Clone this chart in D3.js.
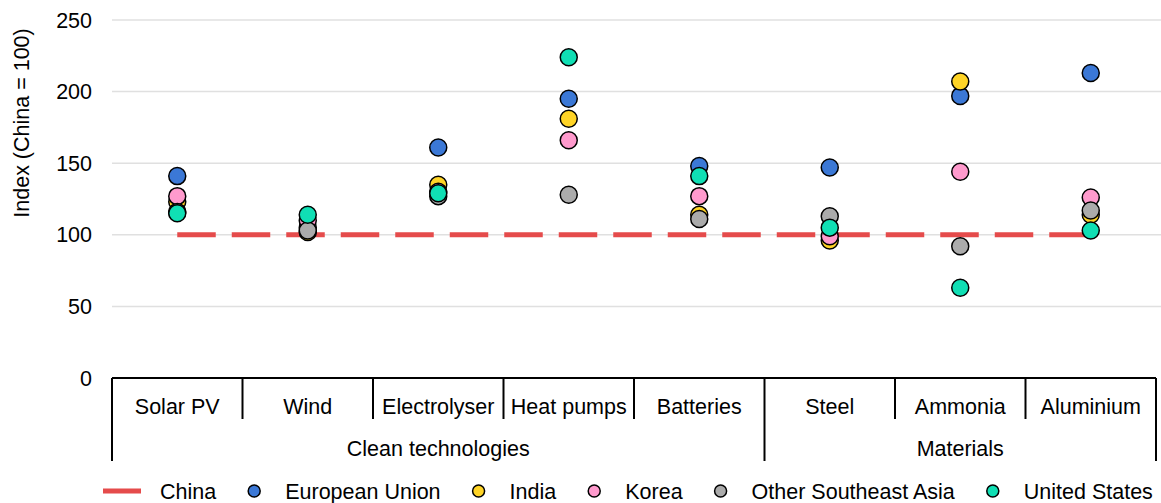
<!DOCTYPE html>
<html>
<head>
<meta charset="utf-8">
<script src="https://cdn.jsdelivr.net/npm/d3@7"></script>
<style>
	body { margin: 0; background: #fff; }
	svg { font-family: "Liberation Sans", Arial, sans-serif; }
</style>
</head>
<body>
<svg id="chart" width="1161" height="503"></svg>
<script>
const categories = ['Solar PV', 'Wind', 'Electrolyser', 'Heat pumps', 'Batteries', 'Steel', 'Ammonia', 'Aluminium'];
const groups = [
	{ name: 'Clean technologies', from: 'Solar PV', to: 'Batteries' },
	{ name: 'Materials', from: 'Steel', to: 'Aluminium' }
];
const yTicks = [0, 50, 100, 150, 200, 250];

const china = [100, 100, 100, 100, 100, 100, 100, 100];
const europeanUnion = [141, 105, 161, 195, 148, 147, 197, 213];
const india = [123, 102, 135, 181, 114, 96, 207, 114];
const korea = [127, 110, 130, 166, 127, 99, 144, 126];
const otherSEAsia = [116, 103, 127, 128, 111, 113, 92, 117];
const unitedStates = [115, 114, 129, 224, 141, 105, 63, 103];

const dotSeries = [
	{ name: 'European Union', values: europeanUnion, color: '#3b78d6' },
	{ name: 'India', values: india, color: '#ffd426' },
	{ name: 'Korea', values: korea, color: '#ff9acd' },
	{ name: 'Other Southeast Asia', values: otherSEAsia, color: '#ababab' },
	{ name: 'United States', values: unitedStates, color: '#10dfb4' }
];
const lineColor = '#e54b4b';
const fontSize = 21.5;

const svg = d3.select('#chart');
const plot = { left: 112, right: 1156, top: 20, bottom: 378 };

const x = d3.scaleBand().domain(categories).range([plot.left, plot.right]).padding(0);
const y = d3.scaleLinear().domain([0, 250]).range([plot.bottom, plot.top]);
const cx = c => x(c) + x.bandwidth() / 2;

// gridlines
svg.append('g')
	.selectAll('line')
	.data(yTicks.filter(d => d > 0))
	.enter().append('line')
	.attr('x1', plot.left).attr('x2', 1161)
	.attr('y1', d => y(d)).attr('y2', d => y(d))
	.attr('stroke', '#e0e0e0').attr('stroke-width', 1.5);

// y axis labels
svg.append('g')
	.selectAll('text')
	.data(yTicks)
	.enter().append('text')
	.attr('x', 92).attr('y', d => y(d))
	.attr('dy', '0.35em')
	.attr('text-anchor', 'end')
	.attr('font-size', fontSize)
	.text(d => d);

svg.append('text')
	.attr('transform', 'translate(29,123) rotate(-90)')
	.attr('text-anchor', 'middle')
	.attr('font-size', fontSize)
	.text('Index (China = 100)');

// china line
svg.append('path')
	.datum(categories.map((c, i) => [cx(c), y(china[i])]))
	.attr('d', d3.line())
	.attr('fill', 'none')
	.attr('stroke', lineColor)
	.attr('stroke-width', 5)
	.attr('stroke-dasharray', '38.5,16');

// dots, drawn series by series so later ones sit on top
dotSeries.forEach(s => {
	svg.append('g')
		.selectAll('circle')
		.data(s.values)
		.enter().append('circle')
		.attr('cx', (d, i) => cx(categories[i]))
		.attr('cy', d => y(d))
		.attr('r', 8.5)
		.attr('fill', s.color)
		.attr('stroke', '#000')
		.attr('stroke-width', 1.5);
});

// x axis
const ax = svg.append('g').attr('stroke', '#000').attr('stroke-width', 2);
ax.append('line')
	.attr('x1', plot.left).attr('x2', plot.right)
	.attr('y1', plot.bottom).attr('y2', plot.bottom);

const groupEdges = [x(groups[0].from), x(groups[1].from), plot.right];
categories.forEach(c => {
	const xx = x(c);
	const long = groupEdges.includes(xx);
	ax.append('line')
		.attr('x1', xx).attr('x2', xx)
		.attr('y1', plot.bottom).attr('y2', long ? 461 : 419);
});
ax.append('line')
	.attr('x1', plot.right).attr('x2', plot.right)
	.attr('y1', plot.bottom).attr('y2', 461);

svg.append('g')
	.selectAll('text')
	.data(categories)
	.enter().append('text')
	.attr('x', d => cx(d)).attr('y', 414)
	.attr('text-anchor', 'middle')
	.attr('font-size', fontSize)
	.text(d => d);

svg.append('g')
	.selectAll('text')
	.data(groups)
	.enter().append('text')
	.attr('x', d => (x(d.from) + x(d.to) + x.bandwidth()) / 2)
	.attr('y', 456)
	.attr('text-anchor', 'middle')
	.attr('font-size', fontSize)
	.text(d => d.name);

// legend
const legend = svg.append('g');
const items = [{ name: 'China', line: true }].concat(dotSeries);
let lx = 103;
const ly = 491;
items.forEach(it => {
	const g = legend.append('g');
	let textX;
	if (it.line) {
		g.append('line')
			.attr('x1', lx).attr('x2', lx + 38)
			.attr('y1', ly).attr('y2', ly)
			.attr('stroke', lineColor).attr('stroke-width', 5);
		textX = lx + 57;
	} else {
		g.append('circle')
			.attr('cx', lx).attr('cy', ly).attr('r', 6)
			.attr('fill', it.color).attr('stroke', '#000').attr('stroke-width', 1.5);
		textX = lx + 31;
	}
	const t = g.append('text')
		.attr('x', textX).attr('y', ly)
		.attr('dy', '0.35em')
		.attr('font-size', fontSize)
		.text(it.name);
	lx = textX + t.node().getComputedTextLength() + 38;
});
</script>
</body>
</html>
